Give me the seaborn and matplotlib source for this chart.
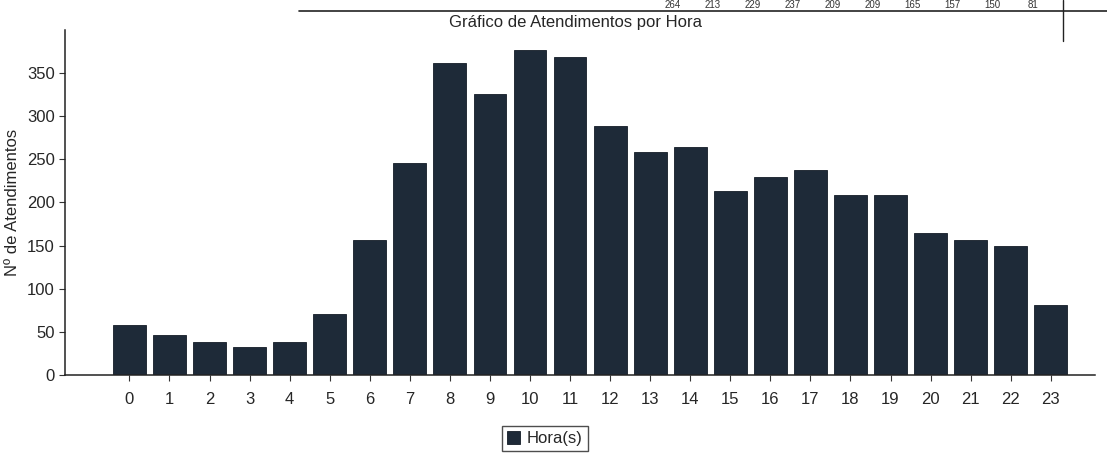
import pandas as pd
import matplotlib.pyplot as plt
import matplotlib.transforms as mtransforms
import seaborn as sns

horas = list(range(24))
atendimentos = [58, 46, 38, 33, 38, 71, 156, 246, 362, 326, 377, 369,
                288, 259, 264, 213, 229, 237, 209, 209, 165, 157, 150, 81]
# fragmento da tabela visível no topo (horas 14 a 23)
tabela_horas = horas[14:]
tabela_valores = atendimentos[14:]

titulo = "Gráfico de Atendimentos por Hora"
rotulo_y = "Nº de Atendimentos"
legenda = "Hora(s)"
cor_barra = "#1e2a38"

sns.set_style("white")
plt.rcParams["font.family"] = ["Liberation Sans", "DejaVu Sans"]

df = pd.DataFrame({"hora": horas, "qtd": atendimentos})

fig = plt.figure(figsize=(11.07, 4.59), dpi=100)
ax = fig.add_axes([0.059, 0.183, 0.93, 0.752])

sns.barplot(data=df, x="hora", y="qtd", color=cor_barra, width=0.82,
            saturation=1, edgecolor="#141c26", linewidth=0.6, ax=ax,
            label=legenda)

ax.set_ylim(0, 400)
ax.set_xlim(-1.6, 24.1)
ax.set_yticks(range(0, 351, 50))
ax.set_xlabel("")
ax.set_ylabel(rotulo_y, fontsize=12, labelpad=5)
ax.tick_params(axis="both", labelsize=12, length=4, width=0.8,
               direction="out", color="#333333", bottom=True, left=True)
ax.tick_params(axis="x", pad=8)
for lado in ("top", "right"):
    ax.spines[lado].set_visible(False)
for lado in ("left", "bottom"):
    ax.spines[lado].set_color("#222222")
    ax.spines[lado].set_linewidth(1.1)

fig.text(0.52, 0.952, titulo, ha="center", va="center", fontsize=12)

# pedaço da tabela cortada no topo
trans = mtransforms.blended_transform_factory(ax.transData, fig.transFigure)
for h, v in zip(tabela_horas, tabela_valores):
    ax.text(h - 0.45, 0.99, str(v), transform=trans, ha="center",
            va="center", fontsize=7, color="#333333", clip_on=False)
fig.add_artist(plt.Line2D([0.27, 1.0], [0.975, 0.975],
                          transform=fig.transFigure, color="#222222", lw=1.2))
fig.add_artist(plt.Line2D([0.96, 0.96], [0.91, 1.0],
                          transform=fig.transFigure, color="#222222", lw=1))

ax.legend(loc="center", bbox_to_anchor=(0.492, 0.045),
          bbox_transform=fig.transFigure, fontsize=12, frameon=True,
          fancybox=False, edgecolor="#222222", handlelength=0.8,
          handleheight=0.8, handletextpad=0.4, borderpad=0.3)

fig.savefig("out.png", dpi=100, facecolor="white")
